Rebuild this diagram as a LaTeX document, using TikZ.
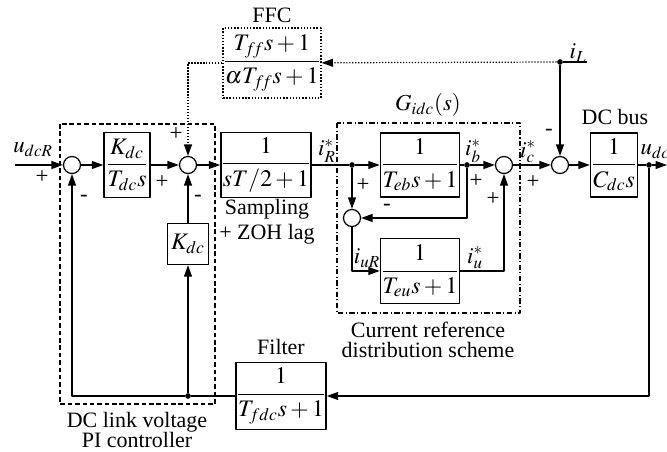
\documentclass[tikz,border=0pt]{standalone}
\usepackage{amsmath}
\usepackage{mathptmx}
\usepackage{fontspec}
\setmainfont{Liberation Serif}
\usetikzlibrary{arrows.meta}

\tikzset{
  blk/.style={draw, line width=0.8pt, inner sep=0pt, font=\fontsize{13.5}{15}\selectfont},
  sumc/.style={draw, circle, line width=0.7pt, minimum size=0.34cm, inner sep=0pt},
  jdot/.style={circle, fill, minimum size=3.2pt, inner sep=0pt},
  lbl/.style={font=\fontsize{12.5}{11.5}\selectfont, inner sep=0pt, align=center},
  mlbl/.style={font=\fontsize{13}{13}\selectfont, inner sep=0pt},
  sgn/.style={font=\fontsize{13}{13}\selectfont, inner sep=0pt},
  arr/.style={-{Triangle[length=6.5pt,width=4.5pt]}},
}

\begin{document}
\begin{tikzpicture}[x=0.02cm, y=-0.02cm, line width=0.7pt, line join=round]
  \useasboundingbox[fill=white] (0,0) rectangle (667,452);
  % blocks
  \node[blk, minimum width=0.92cm, minimum height=1.3cm] (pi) at (127,165) {$\dfrac{K_{dc}}{T_{dc}s}$};
  \node[blk, minimum width=0.82cm, minimum height=0.82cm] (kp) at (188,244) {$K_{dc}$};
  \node[blk, minimum width=1.68cm, minimum height=1.3cm] (samp) at (266,165) {$\dfrac{1}{sT/2+1}$};
  \node[blk, densely dotted, minimum width=1.9cm, minimum height=1.4cm] (ffc) at (272,63) {$\dfrac{T_{f\!f}s+1}{\alpha T_{f\!f}s+1}$};
  \node[blk, minimum width=1.5cm, minimum height=1.28cm] (teb) at (420,165) {$\dfrac{1}{T_{eb}s+1}$};
  \node[blk, minimum width=1.5cm, minimum height=1.3cm] (teu) at (420,271) {$\dfrac{1}{T_{eu}s+1}$};
  \node[blk, minimum width=0.94cm, minimum height=1.28cm] (cdc) at (614,165) {$\dfrac{1}{C_{dc}s}$};
  \node[blk, minimum width=1.7cm, minimum height=1.34cm] (filt) at (281,396) {$\dfrac{1}{T_{fdc}s+1}$};
  % summing points and junctions
  \node[sumc] (s1) at (72,165) {};
  \node[sumc] (s2) at (188,165) {};
  \node[sumc] (s4) at (504,165) {};
  \node[sumc] (s5) at (352,218) {};
  \node[sumc] (s3) at (560,165) {};
  \node[jdot] (bR) at (352,165) {};
  \node[jdot] (bb) at (467,165) {};
  \node[jdot] (bu) at (649,165) {};
  \node[jdot] (bk) at (188,396) {};
  \node[jdot] (iL) at (560,62) {};
  \coordinate (in) at (15,165);
  \coordinate (out) at (667,165);
  \coordinate (iLend) at (587,62);
  % enclosures
  \draw[dash pattern=on 2.6pt off 1.6pt] (60,124) rectangle (215,404);
  \draw[line width=0.6pt, dash pattern=on 3pt off 1.4pt on 0.6pt off 1.4pt] (337,123) rectangle (520,313);
  % connectors
  \draw[arr] (in) -- (s1);
  \draw[arr] (s1) -- (pi);
  \draw[arr] (pi) -- (s2);
  \draw[arr] (s2) -- (samp);
  \draw (samp) -- (bR);
  \draw[arr] (bR) -- (teb);
  \draw (teb) -- (bb);
  \draw[arr] (bb) -- (s4);
  \draw[arr] (bR) -- (s5);
  \draw[arr] (bb) |- (s5);
  \draw[arr] (s5) |- (teu);
  \draw[arr] (teu) -| (s4);
  \draw[arr] (s4) -- (s3);
  \draw[arr] (s3) -- (cdc);
  \draw (cdc) -- (bu);
  \draw[arr] (bu) -- (out);
  \draw[arr] (bu) |- (filt);
  \draw (filt) -- (bk);
  \draw[arr] (bk) -| (s1);
  \draw[arr] (bk) -- (kp);
  \draw[arr] (kp) -- (s2);
  \draw (iLend) -- (iL);
  \draw[arr] (iL) -- (s3);
  \draw[arr, densely dotted] (iL) -- (ffc);
  \draw[arr, densely dotted] (ffc) -| (s2);
  % labels
  \node[lbl] (tffc) at (272,15) {FFC};
  \node[mlbl] (tgidc) at (428,105) {$G_{idc}(s)$};
  \node[lbl] (tbus) at (615,117) {DC bus};
  \node[lbl] (tsamp) at (267,222) {Sampling\\[3pt]+ ZOH lag};
  \node[lbl] (tfilt) at (281,347) {Filter};
  \node[lbl] (tcur) at (428,340) {Current reference\\distribution scheme};
  \node[lbl] (tpi) at (137,430) {DC link voltage\\PI controller};
  \node[mlbl] (udcr) at (33,150) {$u_{dcR}$};
  \node[mlbl, anchor=west] (udc) at (640,152) {$u_{dc}$};
  \node[mlbl] (iRs) at (327,151) {$i_R^*$};
  \node[mlbl] (ibs) at (473,151) {$i_b^*$};
  \node[mlbl] (ics) at (528,152) {$i_c^*$};
  \node[mlbl] (ius) at (475,258) {$i_u^*$};
  \node[mlbl] (iuR) at (367,258) {$i_{uR}$};
  \node[mlbl] (iLt) at (578,53) {$i_L$};
  \node[sgn] (p1) at (42,177) {+};
  \node[sgn] (m1) at (84,198) {-};
  \node[sgn] (p2) at (162,182) {+};
  \node[sgn] (p3) at (176,134) {+};
  \node[sgn] (m2) at (198,198) {-};
  \node[sgn] (p4) at (363,185) {+};
  \node[sgn] (m3) at (387,207) {-};
  \node[sgn] (p5) at (476,181) {+};
  \node[sgn] (p6) at (493,199) {+};
  \node[sgn] (p7) at (533,182) {+};
  \node[sgn] (m4) at (549,132) {-};
\end{tikzpicture}
\end{document}
